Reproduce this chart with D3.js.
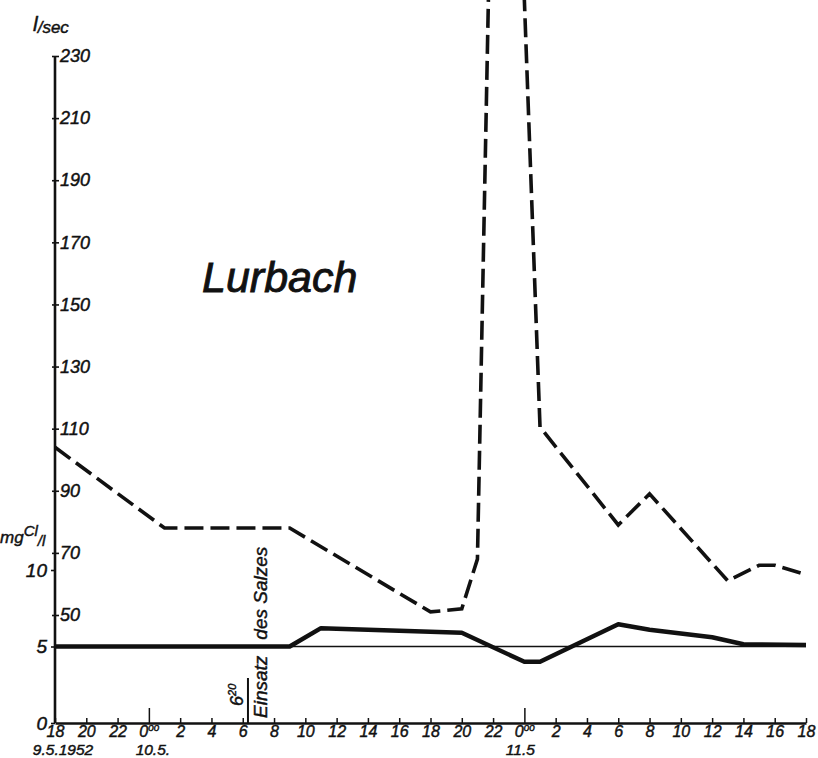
<!DOCTYPE html>
<html>
<head>
<meta charset="utf-8">
<script src="https://cdn.jsdelivr.net/npm/d3@7"></script>
<style>
  body { margin: 0; background: #fff; }
  text { font-family: "Liberation Sans", Arial, sans-serif; font-style: italic; fill: #111; stroke: #111; stroke-width: 0.45; }
</style>
</head>
<body>
<svg id="chart" width="818" height="758"></svg>
<script>
// hours counted from 9.5.1952, 18 h
var flowHours = [0, 7, 15, 24, 26, 27, 28.5, 31, 36, 38, 43, 45, 46, 48];
var flowValues = [104, 78, 78, 51, 52, 68, 454, 110.5, 79, 89, 61, 66, 66, 63];

var chlorideHours = [0, 15, 17, 26, 30, 31, 36, 38, 42, 44, 48];
var chlorideValues = [5, 5, 6.2, 5.9, 4.0, 4.0, 6.45, 6.1, 5.6, 5.15, 5.1];

var hourTicks = [0, 2, 4, 6, 8, 10, 12, 14, 16, 18, 20, 22, 24, 26, 28, 30, 32, 34, 36, 38, 40, 42, 44, 46, 48];
var hourLabels = ['18', '20', '22', '0', '2', '4', '6', '8', '10', '12', '14', '16', '18',
                  '20', '22', '0', '2', '4', '6', '8', '10', '12', '14', '16', '18'];
var midnightHours = [6, 30];
var dateHours = [0, 6, 30];
var dateLabels = ['9.5.1952', '10.5.', '11.5'];

var flowTicks = [230, 210, 190, 170, 150, 130, 110, 90, 70, 50];
var chlorideTicks = [0, 5, 10];
var chlorideRef = 5;
var saltHour = 12 + 20 / 60;

var svg = d3.select('#chart');

var x = d3.scaleLinear().domain([0, 48]).range([55, 806]);
var yFlow = d3.scaleLinear().domain([230, 50]).range([56, 615]);
var yCl = d3.scaleLinear().domain([0, 10]).range([723, 570]);

// vertical axis line
svg.append('line')
    .attr('x1', x(0)).attr('x2', x(0))
    .attr('y1', yFlow(230)).attr('y2', yCl(0))
    .attr('stroke', '#111').attr('stroke-width', 2.6);

// l/sec ticks on the right of the axis
var flowAxis = svg.append('g')
    .attr('transform', 'translate(' + x(0) + ',0)')
    .call(d3.axisRight(yFlow).tickValues(flowTicks).tickSize(4).tickPadding(1));
flowAxis.select('.domain').remove();
flowAxis.selectAll('.tick line').attr('x1', -3).attr('stroke', '#111').attr('stroke-width', 1.6);
flowAxis.selectAll('.tick text')
    .attr('font-size', 18).attr('font-family', null).attr('fill', '#111');

// mgCl/l ticks on the left
var clAxis = svg.append('g')
    .attr('transform', 'translate(' + x(0) + ',0)')
    .call(d3.axisLeft(yCl).tickValues(chlorideTicks).tickSize(4).tickPadding(4));
clAxis.select('.domain').remove();
clAxis.selectAll('.tick line').attr('stroke', '#111').attr('stroke-width', 1.6);
clAxis.selectAll('.tick text')
    .attr('font-size', 19).attr('font-family', null).attr('fill', '#111');

// time axis
var timeAxis = svg.append('g')
    .attr('transform', 'translate(0,' + yCl(0) + ')')
    .call(d3.axisBottom(x).tickValues(hourTicks).tickSize(-5).tickSizeOuter(0).tickPadding(3)
        .tickFormat(function(d, i) { return hourLabels[i]; }));
timeAxis.select('.domain').attr('stroke', '#111').attr('stroke-width', 2.6);
timeAxis.selectAll('.tick line')
    .attr('stroke', '#111').attr('stroke-width', 1.5)
    .attr('y2', function(d) { return midnightHours.indexOf(d) >= 0 ? -15 : -5; });
timeAxis.selectAll('.tick text')
    .attr('font-size', 16).attr('font-family', null).attr('fill', '#111')
    .each(function(d) {
        if (midnightHours.indexOf(d) >= 0) {
            var t = d3.select(this);
            t.text('0');
            t.append('tspan').attr('font-size', 10).attr('dy', -6).text('oo');
        }
    });

svg.append('g').selectAll('text')
    .data(dateHours).enter()
    .append('text')
    .attr('x', function(d) { return x(d); })
    .attr('y', 755)
    .attr('dx', function(d, i) { return i === 0 ? 8 : (i === 1 ? 4 : -4); })
    .attr('text-anchor', 'middle')
    .attr('font-size', 15.5)
    .text(function(d, i) { return dateLabels[i]; });

// reference line at 5 mg Cl/l
svg.append('line')
    .attr('x1', x(0)).attr('x2', x(48))
    .attr('y1', yCl(chlorideRef)).attr('y2', yCl(chlorideRef))
    .attr('stroke', '#111').attr('stroke-width', 1.6);

// chloride curve
var clLine = d3.line()
    .x(function(d, i) { return x(chlorideHours[i]); })
    .y(function(d) { return yCl(d); });

svg.append('path')
    .datum(chlorideValues)
    .attr('d', clLine)
    .attr('fill', 'none')
    .attr('stroke', '#111')
    .attr('stroke-width', 4.5)
    .attr('stroke-linejoin', 'round');

// discharge curve
var flowLine = d3.line()
    .x(function(d, i) { return x(flowHours[i]); })
    .y(function(d) { return yFlow(d); });

svg.append('path')
    .datum(flowValues)
    .attr('d', flowLine)
    .attr('fill', 'none')
    .attr('stroke', '#111')
    .attr('stroke-width', 3.6)
    .attr('stroke-dasharray', '19,7');

// salt injection marker
svg.append('line')
    .attr('x1', x(saltHour)).attr('x2', x(saltHour))
    .attr('y1', 678).attr('y2', yCl(0))
    .attr('stroke', '#111').attr('stroke-width', 2);

var sixTwenty = svg.append('text')
    .attr('transform', 'translate(' + (x(saltHour) - 5) + ',706) rotate(-90)')
    .attr('font-size', 18)
    .text('6');
sixTwenty.append('tspan').attr('font-size', 11).attr('dy', -7).text('20');

var einsatz = svg.append('text')
    .attr('transform', 'translate(' + (x(saltHour) + 19) + ',718) rotate(-90)')
    .attr('font-size', 19);
einsatz.append('tspan').text('Einsatz');
einsatz.append('tspan').attr('dx', 16).text('des Salzes');

// axis titles
var lsec = svg.append('text').attr('x', 33).attr('y', 31);
lsec.append('tspan').attr('font-size', 21).text('l');
lsec.append('tspan').attr('font-size', 17).attr('dy', 2).text('/sec');

var mgcl = svg.append('text').attr('x', 0).attr('y', 543);
mgcl.append('tspan').attr('font-size', 17).text('mg');
mgcl.append('tspan').attr('font-size', 15).attr('dy', -7).text('Cl');
mgcl.append('tspan').attr('font-size', 15).attr('dy', 10).text('/l');

// title
svg.append('text')
    .attr('x', 202).attr('y', 292)
    .attr('font-size', 43)
    .style('stroke-width', 0.9)
    .text('Lurbach');
</script>
</body>
</html>
